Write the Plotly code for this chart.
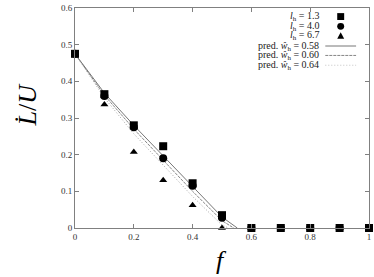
import plotly.graph_objects as go

# ---- data ----
f_vals = [0.0, 0.1, 0.2, 0.3, 0.4, 0.5, 0.6, 0.7, 0.8, 0.9, 1.0]
sq_lh13 = [0.475, 0.365, 0.280, 0.223, 0.122, 0.035, 0, 0, 0, 0, 0]
ci_lh40 = [0.475, 0.360, 0.275, 0.190, 0.115, 0.028, 0, 0, 0, 0, 0]
tr_lh67 = [0.475, 0.337, 0.207, 0.130, 0.062, 0.000, 0, 0, 0, 0, 0]

pred058_f = [0.0, 0.1, 0.2, 0.3, 0.4, 0.5, 0.552]
pred058_y = [0.475, 0.368, 0.280, 0.197, 0.112, 0.030, 0.0]
pred060_f = [0.0, 0.1, 0.2, 0.3, 0.4, 0.5, 0.540]
pred060_y = [0.475, 0.362, 0.270, 0.186, 0.100, 0.020, 0.0]
pred064_f = [0.0, 0.1, 0.2, 0.3, 0.4, 0.5, 0.522]
pred064_y = [0.475, 0.355, 0.257, 0.172, 0.086, 0.008, 0.0]

x_ticks = [0, 0.2, 0.4, 0.6, 0.8, 1]
x_ticklabels = ["0", "0.2", "0.4", "0.6", "0.8", "1"]
y_ticks = [0, 0.1, 0.2, 0.3, 0.4, 0.5, 0.6]
y_ticklabels = ["0", "0.1", "0.2", "0.3", "0.4", "0.5", "0.6"]

legend_labels = [
    "<i>l</i><sub>h</sub> = 1.3",
    "<i>l</i><sub>h</sub> = 4.0",
    "<i>l</i><sub>h</sub> = 6.7",
    "pred. <i>ŵ</i><sub>h</sub> = 0.58",
    "pred. <i>ŵ</i><sub>h</sub> = 0.60",
    "pred. <i>ŵ</i><sub>h</sub> = 0.64",
]

SERIF = "Liberation Serif, DejaVu Serif, serif"
W, H = 374, 277
L, R, T, B = 75, 3, 4, 49

fig = go.Figure()
fig.add_trace(go.Scatter(x=pred058_f, y=pred058_y, mode="lines",
                         line=dict(color="#666666", width=0.9, dash="solid"), showlegend=False))
fig.add_trace(go.Scatter(x=pred060_f, y=pred060_y, mode="lines",
                         line=dict(color="#777777", width=0.9, dash="3px,1px"), showlegend=False))
fig.add_trace(go.Scatter(x=pred064_f, y=pred064_y, mode="lines",
                         line=dict(color="#999999", width=0.9, dash="1px,2px"), showlegend=False))
fig.add_trace(go.Scatter(x=f_vals, y=tr_lh67, mode="markers", cliponaxis=False,
                         marker=dict(symbol="triangle-up", size=7, color="black"), showlegend=False))
fig.add_trace(go.Scatter(x=f_vals, y=ci_lh40, mode="markers", cliponaxis=False,
                         marker=dict(symbol="circle", size=8, color="black"), showlegend=False))
fig.add_trace(go.Scatter(x=f_vals, y=sq_lh13, mode="markers", cliponaxis=False,
                         marker=dict(symbol="square", size=8, color="black"), showlegend=False))

axis_common = dict(showline=True, linecolor="#808080", linewidth=1, mirror="allticks",
                   ticks="inside", ticklen=4, tickcolor="#808080", showgrid=False,
                   zeroline=False, ticklabeloverflow="allow",
                   tickfont=dict(family=SERIF, size=9, color="#333333"))
fig.update_xaxes(range=[0, 1], tickvals=x_ticks, ticktext=x_ticklabels, **axis_common)
fig.update_yaxes(range=[0, 0.6], tickvals=y_ticks, ticktext=y_ticklabels, **axis_common)

pw = W - L - R
ph = H - T - B
def px_x(p):
    return (p - L) / pw
def px_y(p):
    return 1 - (p - T) / ph

annotations = []
shapes = []
rows = [12.7, 22.7, 32.3, 42.7, 52.3, 62.3]
for lab, ry in zip(legend_labels, rows):
    annotations.append(dict(xref="paper", yref="paper", x=px_x(322), y=px_y(ry),
                            xanchor="right", yanchor="middle", text=lab, showarrow=False,
                            borderpad=0,
                            font=dict(family=SERIF, size=10, color="#222222")))
# legend keys
sx = 342.5
shapes.append(dict(type="rect", xref="paper", yref="paper",
                   x0=px_x(sx - 3.5), x1=px_x(sx + 3.5), y0=px_y(rows[0] + 3.5), y1=px_y(rows[0] - 3.5),
                   fillcolor="black", line=dict(width=0)))
shapes.append(dict(type="circle", xref="paper", yref="paper",
                   x0=px_x(sx - 3.5), x1=px_x(sx + 3.5), y0=px_y(rows[1] + 3.5), y1=px_y(rows[1] - 3.5),
                   fillcolor="black", line=dict(width=0)))
shapes.append(dict(type="path", xref="paper", yref="paper",
                   path=f"M {px_x(sx-3.5)} {px_y(rows[2]+3)} L {px_x(sx+3.5)} {px_y(rows[2]+3)} L {px_x(sx)} {px_y(rows[2]-3.5)} Z",
                   fillcolor="black", line=dict(width=0)))
for ry, dash, col in [(rows[3], "solid", "#666666"), (rows[4], "3px,1px", "#777777"), (rows[5], "1px,2px", "#bbbbbb")]:
    shapes.append(dict(type="line", xref="paper", yref="paper",
                       x0=px_x(327), x1=px_x(358), y0=px_y(ry), y1=px_y(ry),
                       line=dict(color=col, width=0.9, dash=dash)))

# axis titles
annotations.append(dict(xref="paper", yref="paper", x=px_x(222), y=px_y(261),
                        xanchor="center", yanchor="middle", text="<i>f</i>", showarrow=False,
                        font=dict(family=SERIF, size=26, color="black")))
annotations.append(dict(xref="paper", yref="paper", x=px_x(27), y=px_y(102),
                        xanchor="center", yanchor="middle", text="<i>L\u0307</i>/<i>U</i>", showarrow=False,
                        textangle=-90, font=dict(family=SERIF, size=26, color="black")))

fig.update_layout(width=W, height=H, margin=dict(l=L, r=R, t=T, b=B),
                  plot_bgcolor="white", paper_bgcolor="white",
                  annotations=annotations, shapes=shapes, showlegend=False)

fig.write_html("out.html", config={"displayModeBar": False},
               post_script="document.body.style.margin='0';document.body.style.overflow='hidden';")
